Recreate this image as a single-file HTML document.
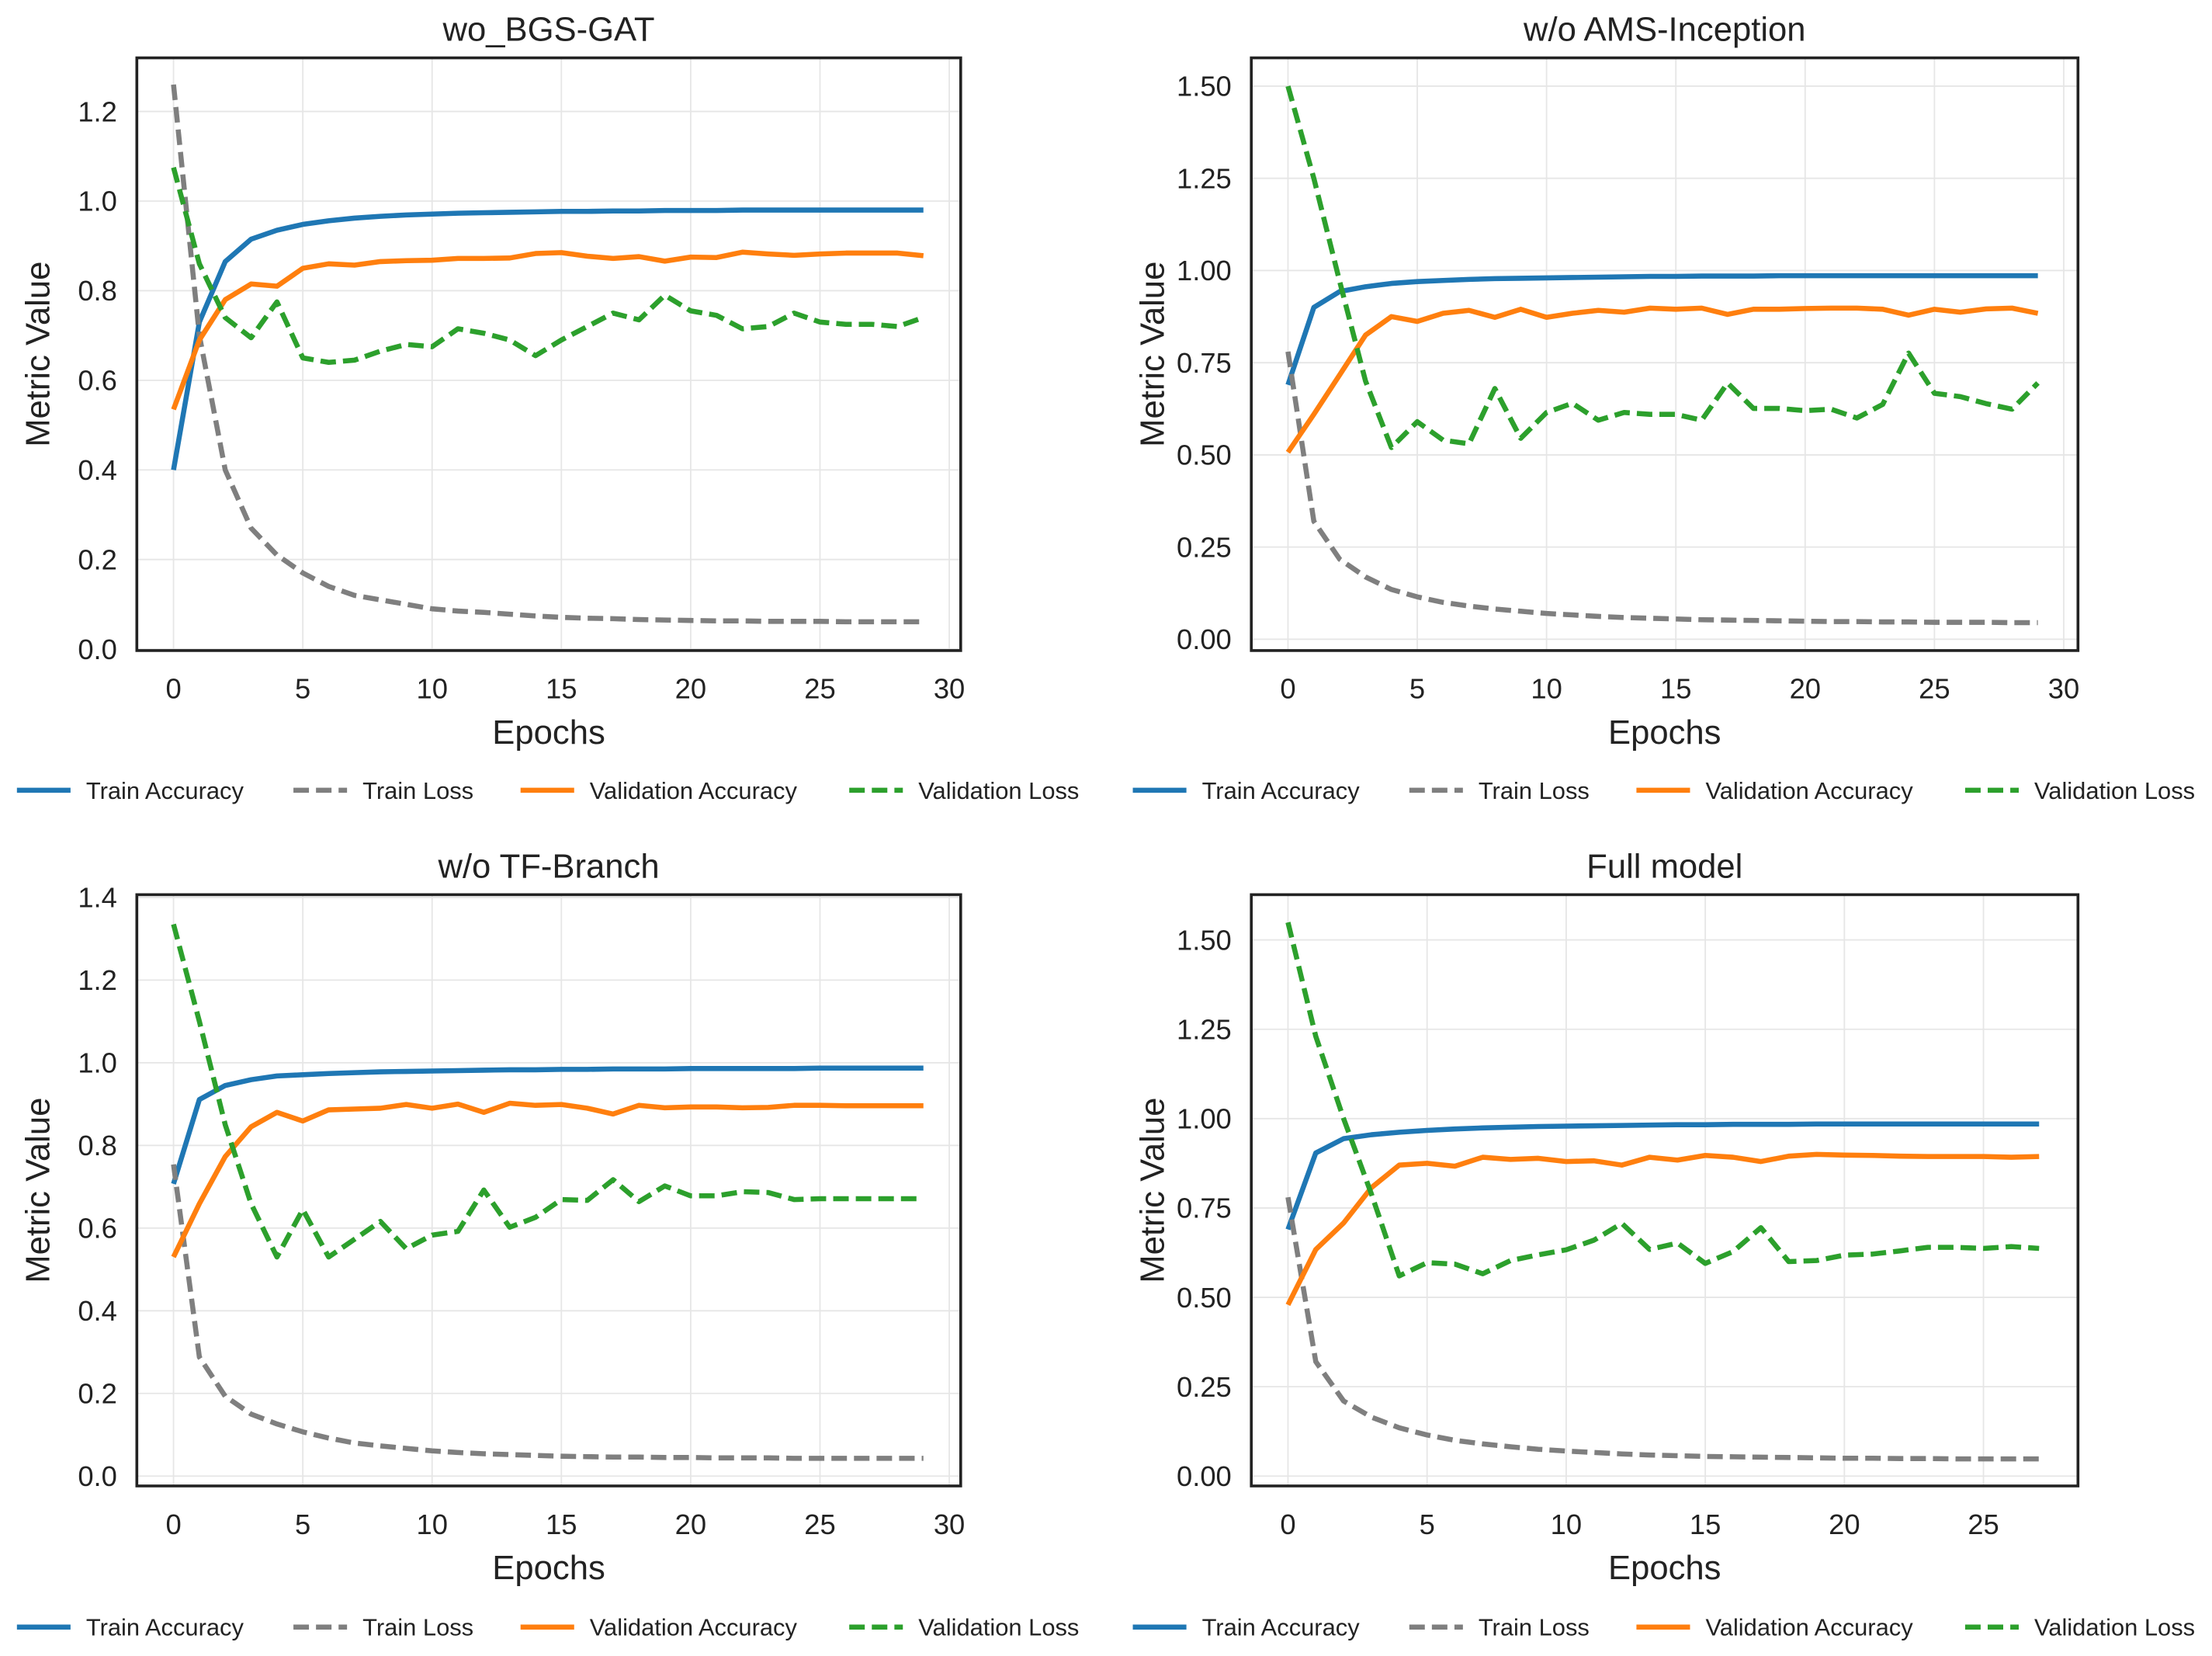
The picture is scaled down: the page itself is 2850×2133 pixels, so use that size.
<!DOCTYPE html>
<html><head><meta charset="utf-8">
<style>
html,body{margin:0;padding:0;background:#fff;}
svg{display:block;}
text{font-family:"Liberation Sans",sans-serif;fill:#222;}
</style></head>
<body>
<svg id="fig" width="2850" height="2133" viewBox="0 0 1568 1173.5" preserveAspectRatio="none" xmlns="http://www.w3.org/2000/svg"></svg>
<script>
// ---------- data ----------
const titles = ["wo_BGS-GAT", "w/o AMS-Inception", "w/o TF-Branch", "Full model"];
const seriesNames = ["Train Accuracy", "Train Loss", "Validation Accuracy", "Validation Loss"];

const p1TrainAcc = [0.40,0.73,0.865,0.915,0.935,0.948,0.956,0.962,0.966,0.969,0.971,0.973,0.974,0.975,0.976,0.977,0.977,0.978,0.978,0.979,0.979,0.979,0.980,0.980,0.980,0.980,0.980,0.980,0.980,0.980];
const p1TrainLoss = [1.26,0.70,0.40,0.27,0.21,0.17,0.14,0.12,0.11,0.10,0.09,0.085,0.082,0.078,0.074,0.071,0.069,0.068,0.066,0.065,0.064,0.063,0.063,0.062,0.062,0.062,0.061,0.061,0.061,0.061];
const p1ValAcc = [0.535,0.69,0.78,0.815,0.81,0.85,0.86,0.857,0.865,0.867,0.868,0.872,0.872,0.873,0.883,0.885,0.877,0.872,0.876,0.866,0.875,0.874,0.886,0.882,0.879,0.882,0.884,0.884,0.884,0.878];
const p1ValLoss = [1.075,0.86,0.74,0.695,0.775,0.65,0.64,0.645,0.665,0.68,0.675,0.715,0.705,0.69,0.655,0.69,0.72,0.75,0.735,0.79,0.755,0.745,0.715,0.72,0.75,0.73,0.725,0.725,0.72,0.74];

const p2TrainAcc = [0.69,0.90,0.943,0.956,0.965,0.970,0.973,0.976,0.978,0.979,0.980,0.981,0.982,0.983,0.984,0.984,0.985,0.985,0.985,0.986,0.986,0.986,0.986,0.986,0.986,0.986,0.986,0.986,0.986,0.986];
const p2TrainLoss = [0.78,0.32,0.217,0.169,0.135,0.115,0.1,0.09,0.082,0.076,0.07,0.066,0.062,0.059,0.057,0.055,0.053,0.052,0.051,0.05,0.049,0.048,0.048,0.047,0.047,0.046,0.046,0.046,0.045,0.045];
const p2ValAcc = [0.507,0.61,0.717,0.825,0.875,0.862,0.884,0.892,0.873,0.895,0.873,0.884,0.892,0.887,0.898,0.895,0.898,0.881,0.895,0.895,0.897,0.898,0.898,0.895,0.879,0.895,0.887,0.896,0.898,0.884];
const p2ValLoss = [1.50,1.25,0.97,0.70,0.52,0.59,0.54,0.53,0.68,0.545,0.615,0.64,0.594,0.615,0.61,0.61,0.594,0.695,0.626,0.626,0.62,0.624,0.60,0.637,0.776,0.667,0.658,0.639,0.624,0.695];

const p3TrainAcc = [0.707,0.911,0.945,0.959,0.968,0.971,0.974,0.976,0.978,0.979,0.980,0.981,0.982,0.983,0.983,0.984,0.984,0.985,0.985,0.985,0.986,0.986,0.986,0.986,0.986,0.987,0.987,0.987,0.987,0.987];
const p3TrainLoss = [0.754,0.288,0.193,0.15,0.126,0.107,0.092,0.08,0.073,0.067,0.061,0.057,0.054,0.052,0.05,0.048,0.047,0.046,0.046,0.045,0.045,0.044,0.044,0.044,0.043,0.043,0.043,0.043,0.043,0.043];
const p3ValAcc = [0.53,0.659,0.773,0.845,0.88,0.859,0.886,0.888,0.89,0.899,0.89,0.9,0.88,0.902,0.897,0.899,0.89,0.876,0.897,0.891,0.893,0.893,0.891,0.892,0.897,0.897,0.896,0.896,0.896,0.896];
const p3ValLoss = [1.335,1.10,0.85,0.659,0.53,0.645,0.53,0.573,0.616,0.55,0.583,0.592,0.692,0.602,0.626,0.669,0.667,0.717,0.664,0.702,0.678,0.678,0.688,0.686,0.669,0.671,0.671,0.671,0.671,0.671];

const p4TrainAcc = [0.69,0.904,0.944,0.955,0.962,0.967,0.971,0.974,0.976,0.978,0.979,0.980,0.981,0.982,0.983,0.983,0.984,0.984,0.984,0.985,0.985,0.985,0.985,0.985,0.985,0.985,0.985,0.985];
const p4TrainLoss = [0.78,0.32,0.21,0.165,0.135,0.115,0.1,0.09,0.082,0.075,0.07,0.066,0.062,0.059,0.057,0.055,0.054,0.053,0.052,0.051,0.05,0.05,0.049,0.049,0.048,0.048,0.048,0.048];
const p4ValAcc = [0.479,0.634,0.708,0.807,0.87,0.875,0.867,0.892,0.886,0.889,0.88,0.882,0.87,0.892,0.884,0.897,0.892,0.88,0.895,0.9,0.898,0.897,0.895,0.894,0.894,0.894,0.892,0.894];
const p4ValLoss = [1.549,1.23,1.00,0.789,0.56,0.597,0.593,0.566,0.603,0.619,0.633,0.66,0.707,0.634,0.652,0.595,0.628,0.695,0.6,0.603,0.618,0.621,0.63,0.64,0.64,0.637,0.642,0.637];

const yTicksA = [0.0,0.2,0.4,0.6,0.8,1.0,1.2];
const yTicksB = [0.00,0.25,0.50,0.75,1.00,1.25,1.50];
const yTicksC = [0.0,0.2,0.4,0.6,0.8,1.0,1.2,1.4];
const xTicks30 = [0,5,10,15,20,25,30];
const xTicks25 = [0,5,10,15,20,25];

// ---------- layout ----------
const NS = "http://www.w3.org/2000/svg";
const svg = document.getElementById('fig');
const colors = ["#1f77b4","#7f7f7f","#ff7f0e","#2ca02c"];
const dashed = [false,true,false,true];

function mk(tag, attrs, parent){
  const e = document.createElementNS(NS, tag);
  for (const k in attrs) e.setAttribute(k, attrs[k]);
  (parent||svg).appendChild(e);
  return e;
}

const panels = [
  {box:[97,41,681,461], y0:460, yPer:317.5, yDec:1, yTicks:yTicksA, x0:123, xPer:18.33, xTicks:xTicks30,
   series:[p1TrainAcc,p1TrainLoss,p1ValAcc,p1ValLoss], legY:560, legX:0},
  {box:[887,41,1473,461], y0:453, yPer:261.3, yDec:2, yTicks:yTicksB, x0:913, xPer:18.33, xTicks:xTicks30,
   series:[p2TrainAcc,p2TrainLoss,p2ValAcc,p2ValLoss], legY:560, legX:791},
  {box:[97,634,681,1053], y0:1046, yPer:292.9, yDec:1, yTicks:yTicksC, x0:123, xPer:18.33, xTicks:xTicks30,
   series:[p3TrainAcc,p3TrainLoss,p3ValAcc,p3ValLoss], legY:1153, legX:0},
  {box:[887,634,1473,1053], y0:1046, yPer:253.3, yDec:2, yTicks:yTicksB, x0:913, xPer:19.72, xTicks:xTicks25,
   series:[p4TrainAcc,p4TrainLoss,p4ValAcc,p4ValLoss], legY:1153, legX:791}
];

panels.forEach((p, pi) => {
  const g = mk('g', {});
  
  
  const [L,T,R,B] = p.box;
  const xs = v => p.x0 + v * p.xPer;
  const ys = v => p.y0 - v * p.yPer;

  p.yTicks.forEach(t => {
    const ln = mk('line', {x1:L, x2:R, y1:ys(t), y2:ys(t), stroke:'#e6e6e6', 'stroke-width':1}, g);
    
    
    const tx = mk('text', {x:L-14, y:ys(t)+7, 'text-anchor':'end', 'font-size':20}, g);
    
    
    tx.textContent = t.toFixed(p.yDec);
  });
  p.xTicks.forEach(t => {
    const ln = mk('line', {x1:xs(t), x2:xs(t), y1:T, y2:B, stroke:'#e6e6e6', 'stroke-width':1}, g);
    
    
    const tx = mk('text', {x:xs(t), y:B+34, 'text-anchor':'middle', 'font-size':20}, g);
    
    
    tx.textContent = t;
  });

  p.series.forEach((arr, si) => {
    const pts = arr.map((v,i) => xs(i).toFixed(2) + ',' + ys(v).toFixed(2)).join(' ');
    const attrs = {points:pts, fill:'none', stroke:colors[si], 'stroke-width':3.6, 'stroke-linejoin':'round'};
    if (dashed[si]) attrs['stroke-dasharray'] = '11,5';
    const pl = mk('polyline', attrs, g);
    
    
  });

  const fr = mk('rect', {x:L, y:T, width:R-L, height:B-T, fill:'none', stroke:'#222', 'stroke-width':2}, g);
  
  

  const cx = (L+R)/2;
  const ti = mk('text', {x:cx, y:T-12, 'text-anchor':'middle', 'font-size':24}, g);
  
  
  ti.textContent = titles[pi];
  const xl = mk('text', {x:cx, y:B+66, 'text-anchor':'middle', 'font-size':24}, g);
  
  
  xl.textContent = 'Epochs';
  const ylx = L - 62, yly = (T+B)/2;
  const yl = mk('text', {x:ylx, y:yly, 'text-anchor':'middle', 'font-size':24, transform:'rotate(-90 '+ylx+' '+yly+')'}, g);
  
  
  yl.textContent = 'Metric Value';

  const lg = mk('g', {}, g);
  
  
  const lx = [12, 208, 369, 602];
  seriesNames.forEach((nm, si) => {
    const x = lx[si] + p.legX;
    const la = {x1:x, x2:x+38, y1:p.legY, y2:p.legY, stroke:colors[si], 'stroke-width':3.6};
    if (dashed[si]) la['stroke-dasharray'] = '11,5';
    const sw = mk('line', la, lg);
    
    
    const tx = mk('text', {x:x+49, y:p.legY+6, 'font-size':17}, lg);
    
    
    tx.textContent = nm;
  });
});
</script>
</body></html>
